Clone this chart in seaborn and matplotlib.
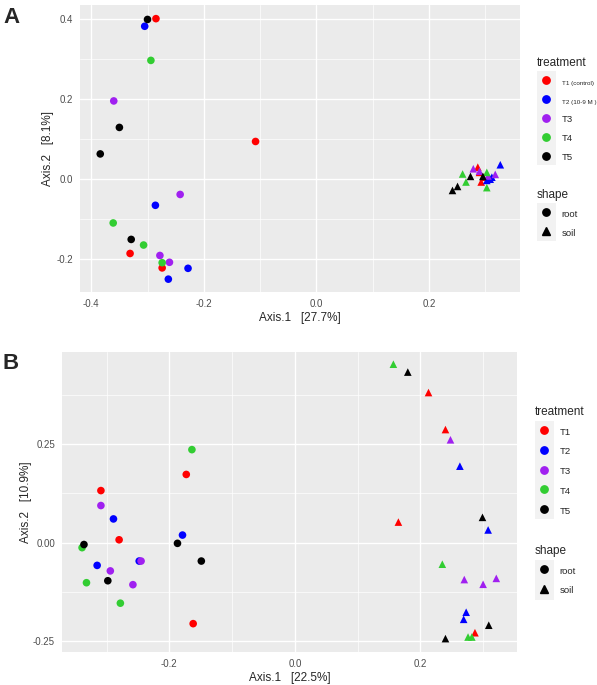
import matplotlib
matplotlib.use("Agg")
import matplotlib.pyplot as plt
from matplotlib.lines import Line2D
from matplotlib.patches import Rectangle
from matplotlib.ticker import MultipleLocator, FormatStrFormatter
import seaborn as sns
import pandas as pd

treatments = ["T1", "T2", "T3", "T4", "T5"]
colors = ["#FF0000", "#0000FF", "#A020F0", "#32CD32", "#000000"]
shapes = ["root", "soil"]
labels_a = ["T1 (control)", "T2 (10-9 M )", "T3", "T4", "T5"]

# panel A: 4 roots then 4 soils per treatment block (T1..T5 roots, T1..T5 soils)
a_x = [-0.285, -0.108, -0.331, -0.274,
       -0.305, -0.286, -0.228, -0.263,
       -0.360, -0.242, -0.278, -0.261,
       -0.294, -0.361, -0.307, -0.274,
       -0.300, -0.350, -0.384, -0.329,
       0.287, 0.290, 0.293, 0.297,
       0.327, 0.309, 0.303, 0.312,
       0.279, 0.318, 0.290, 0.305,
       0.260, 0.303, 0.266, 0.303,
       0.274, 0.296, 0.251, 0.242]
a_y = [0.400, 0.094, -0.185, -0.221,
       0.381, -0.065, -0.222, -0.249,
       0.195, -0.038, -0.190, -0.207,
       0.296, -0.109, -0.164, -0.208,
       0.398, 0.129, 0.063, -0.150,
       0.030, 0.017, -0.007, 0.005,
       0.036, 0.000, -0.003, 0.005,
       0.026, 0.012, 0.020, 0.008,
       0.013, 0.017, -0.007, -0.021,
       0.007, 0.007, -0.018, -0.028]

# panel B
b_x = [-0.173, -0.309, -0.280, -0.162,
       -0.289, -0.179, -0.315, -0.248,
       -0.309, -0.294, -0.245, -0.258,
       -0.164, -0.339, -0.332, -0.278,
       -0.187, -0.336, -0.149, -0.298,
       0.213, 0.240, 0.165, 0.287,
       0.263, 0.308, 0.273, 0.269,
       0.248, 0.270, 0.300, 0.321,
       0.157, 0.235, 0.276, 0.282,
       0.180, 0.299, 0.309, 0.240]
b_y = [0.173, 0.132, 0.007, -0.206,
       0.060, 0.019, -0.058, -0.047,
       0.094, -0.072, -0.047, -0.107,
       0.236, -0.013, -0.102, -0.154,
       -0.002, -0.005, -0.047, -0.097,
       0.381, 0.287, 0.052, -0.229,
       0.194, 0.032, -0.177, -0.195,
       0.261, -0.094, -0.106, -0.091,
       0.453, -0.055, -0.240, -0.240,
       0.433, 0.064, -0.210, -0.244]

group = [t for t in treatments for _ in range(4)] * 2
kind = ["root"] * 20 + ["soil"] * 20

sns.set_theme(style="darkgrid", rc={"axes.facecolor": "#EBEBEB", "grid.color": "white"})
plt.rcParams["font.family"] = ["Liberation Sans", "DejaVu Sans"]

W, H = 597, 685
fig = plt.figure(figsize=(W / 100, H / 100), dpi=100)


def px_box(l, t, r, b):
    return [l / W, 1 - b / H, (r - l) / W, (b - t) / H]


def style_axes(ax, xmaj, ymaj, fmt_y):
    ax.xaxis.set_major_locator(MultipleLocator(xmaj))
    ax.xaxis.set_minor_locator(MultipleLocator(xmaj / 2))
    ax.yaxis.set_major_locator(MultipleLocator(ymaj))
    ax.yaxis.set_minor_locator(MultipleLocator(ymaj / 2))
    ax.xaxis.set_major_formatter(FormatStrFormatter("%.1f"))
    ax.yaxis.set_major_formatter(FormatStrFormatter(fmt_y))
    ax.grid(which="major", color="white", linewidth=1.0)
    ax.grid(which="minor", color="white", linewidth=0.5)
    ax.tick_params(which="major", length=3, width=0.6, color="#333333",
                   labelsize=7, labelcolor="#4D4D4D", pad=2)
    ax.tick_params(which="minor", length=0)
    for s in ax.spines.values():
        s.set_visible(False)


def add_legends(ax, labels, tx, ty, gap, spacing, small=False):
    common = dict(loc="upper left", bbox_transform=fig.transFigure, frameon=False,
                  fontsize=6.8, title_fontsize=8.5, handlelength=2.0, handleheight=1.65,
                  handletextpad=0.6, labelspacing=spacing, borderpad=0, borderaxespad=0)
    th = [Line2D([], [], marker="o", linestyle="", color=c, markersize=5.3) for c in colors]
    leg1 = ax.legend(th, labels, title="treatment",
                     bbox_to_anchor=(tx / W, 1 - ty / H), **common)
    leg1._legend_box.align = "left"
    if small:
        for t in leg1.get_texts()[:2]:
            t.set_fontsize(4.5)
    ax.add_artist(leg1)
    sh = [Line2D([], [], marker=m, linestyle="", color="black", markersize=5.3) for m in ["o", "^"]]
    leg2 = ax.legend(sh, shapes, title="shape",
                     bbox_to_anchor=(tx / W, 1 - (ty + gap) / H), **common)
    leg2._legend_box.align = "left"


def key_bg(l, t, r, b):
    fig.add_artist(Rectangle((l / W, 1 - b / H), (r - l) / W, (b - t) / H,
                             transform=fig.transFigure, facecolor="#F2F2F2",
                             edgecolor="none", zorder=0))


markers = {"root": "o", "soil": "^"}
palette = dict(zip(treatments, colors))

# panel A
axA = fig.add_axes(px_box(80, 5, 520, 292))
dfA = pd.DataFrame({"x": a_x, "y": a_y, "treatment": group, "shape": kind})
sns.scatterplot(data=dfA, x="x", y="y", hue="treatment", style="shape", markers=markers,
                palette=palette, s=30, linewidth=0, legend=False, ax=axA)
axA.set_xlim(-0.42, 0.362)
axA.set_ylim(-0.281, 0.434)
style_axes(axA, 0.2, 0.2, "%.1f")
axA.set_xlabel("Axis.1   [27.7%]", fontsize=8.5, labelpad=2)
axA.set_ylabel("Axis.2   [8.1%]", fontsize=8.5, labelpad=2)
key_bg(537, 71, 556, 165)
key_bg(537, 203, 556, 241)
add_legends(axA, labels_a, 537, 57, 132, 0.68, small=True)
fig.text(3 / W, 1 - 23 / H, "A", fontsize=16, fontweight="bold")

# panel B
axB = fig.add_axes(px_box(62, 352, 517, 652))
dfB = pd.DataFrame({"x": b_x, "y": b_y, "treatment": group, "shape": kind})
sns.scatterplot(data=dfB, x="x", y="y", hue="treatment", style="shape", markers=markers,
                palette=palette, s=30, linewidth=0, legend=False, ax=axB)
axB.set_xlim(-0.371, 0.354)
axB.set_ylim(-0.278, 0.484)
style_axes(axB, 0.2, 0.25, "%.2f")
axB.set_xlabel("Axis.1   [22.5%]", fontsize=8.5, labelpad=2)
axB.set_ylabel("Axis.2   [10.9%]", fontsize=8.5, labelpad=1)
key_bg(535, 421, 554, 519)
key_bg(535, 560, 554, 600)
add_legends(axB, treatments, 535, 406, 139, 0.78)
fig.text(3 / W, 1 - 369 / H, "B", fontsize=16, fontweight="bold")

fig.savefig("out.png", dpi=100)
